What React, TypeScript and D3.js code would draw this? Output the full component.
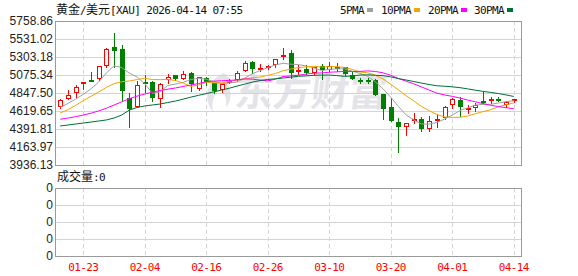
import React from "react";
import * as d3 from "d3";

// ---------- data ----------
const dates = [
  "01-20","01-21","01-22","01-23","01-26","01-27","01-28","01-29","01-30","02-02",
  "02-03","02-04","02-05","02-06","02-09","02-10","02-11","02-12","02-13","02-16",
  "02-17","02-18","02-19","02-20","02-23","02-24","02-25","02-26","02-27","03-02",
  "03-03","03-04","03-05","03-06","03-09","03-10","03-11","03-12","03-13","03-16",
  "03-17","03-18","03-19","03-20","03-23","03-24","03-25","03-26","03-27","03-30",
  "03-31","04-01","04-02","04-06","04-07","04-08","04-09","04-10","04-13","04-14",
];
const opens = [
  4674,4768,4843,4957,5012,5028,5185,5426,5404,4784,
  4674,4983,4987,4771,5008,5075,5028,5104,4894,5037,
  4970,4885,4987,5012,5122,5240,5147,5164,5198,5316,
  5354,5122,5155,5097,5189,5139,5181,5181,5071,5008,
  5008,5012,4835,4666,4480,4421,4489,4522,4388,4505,
  4531,4691,4759,4641,4657,4750,4742,4775,4699,4750,
];
const highs = [
  4775,4885,4945,4987,5113,5193,5417,5607,5459,4847,
  4995,5079,4995,4970,5088,5080,5130,5110,5054,5046,
  4975,4970,5021,5122,5249,5256,5215,5206,5274,5417,
  5392,5206,5198,5181,5215,5240,5231,5181,5113,5037,
  5037,5021,4835,4784,4531,4470,4590,4548,4556,4581,
  4683,4784,4793,4699,4717,4860,4800,4800,4742,4775,
];
const lows = [
  4657,4768,4784,4902,4995,5012,5173,5173,4763,4413,
  4666,4860,4750,4666,4970,5012,5028,4876,4885,4945,
  4851,4860,4978,5003,5122,5104,5122,5147,5173,5274,
  5037,5088,5090,5088,5028,5130,5122,5080,5025,4978,
  4980,4818,4522,4489,4101,4312,4464,4362,4370,4421,
  4514,4657,4556,4598,4616,4725,4717,4742,4666,4733,
];
const closes = [
  4759,4826,4927,4983,5003,5185,5408,5383,4869,4649,
  4945,4974,4784,4961,5054,5025,5088,4961,5046,4987,
  4876,4961,5003,5104,5231,5155,5164,5189,5274,5332,
  5101,5139,5097,5173,5139,5189,5173,5088,5028,5003,
  5000,4826,4649,4497,4413,4464,4514,4388,4489,4522,
  4674,4767,4674,4657,4699,4725,4767,4759,4733,4767,
];
const ma5 = [
  4666,4715,4770,4830,4900,4985,5101,5192,5170,5099,
  5051,4964,4844,4863,4944,4960,4982,5018,5035,5021,
  4992,4966,4975,4986,5035,5091,5131,5169,5203,5223,
  5212,5207,5189,5168,5130,5147,5154,5152,5123,5096,
  5058,4989,4901,4795,4677,4570,4507,4455,4454,4475,
  4517,4568,4625,4659,4694,4704,4704,4721,4737,4750,
];
const ma10 = [
  4594,4636,4691,4750,4806,4860,4919,4965,4990,4999,
  5018,5033,5018,5016,5021,5005,4973,4931,4949,4983,
  4976,4974,4996,5011,5028,5041,5049,5072,5094,5129,
  5151,5169,5179,5186,5176,5180,5181,5171,5146,5113,
  5103,5072,5027,4959,4887,4814,4748,4678,4624,4576,
  4544,4538,4540,4556,4585,4611,4636,4673,4698,4722,
];
const ma20 = [
  4515,4530,4548,4569,4592,4620,4654,4695,4735,4775,
  4808,4835,4858,4879,4896,4911,4930,4949,4968,4991,
  4997,5003,5007,5013,5025,5023,5011,5001,5022,5056,
  5064,5072,5087,5098,5102,5110,5115,5121,5120,5121,
  5127,5120,5103,5072,5031,4997,4964,4924,4885,4845,
  4823,4805,4784,4758,4736,4713,4692,4676,4661,4649,
];
const ma30 = [
  4430,4442,4455,4467,4480,4493,4506,4531,4569,4632,
  4664,4683,4696,4708,4727,4746,4770,4795,4818,4840,
  4862,4885,4908,4935,4960,4985,5005,5018,5028,5037,
  5048,5059,5064,5071,5075,5075,5068,5058,5063,5075,
  5077,5072,5067,5052,5030,5012,4993,4973,4955,4939,
  4933,4926,4915,4900,4883,4868,4855,4841,4823,4804,
];
const yTickLabels = ["5758.86","5531.02","5303.18","5075.34","4847.50","4619.65","4391.81","4163.97","3936.13"];
const xTickLabels = ["01-23","02-04","02-16","02-26","03-10","03-20","04-01","04-14"];
const volTickLabels = ["0","0","0","0","0"];
const maNames = ["5PMA","10PMA","20PMA","30PMA"];
const titleCN1 = "黄金";
const titleCN2 = "美元";
const titleRest = "[XAU] 2026-04-14 07:55";
const volTitle = "成交量";
const volValue = ":0";
const watermark = "东方财富";

// ---------- styles ----------
const W = 578, H = 276;
const L = 56, R = 522;
const MAIN_TOP = 21, MAIN_BOT = 165;
const VOL_TOP = 188, VOL_BOT = 256;
const UP = "#ff0000", DOWN = "#008000";
const MA_COLORS = ["#a0a0a0", "#f4a300", "#ff00ff", "#006f38"];
const GRID = "#d4d4d4";
const FRAME = "#9a9a9a";
const MONO = "'DejaVu Sans Mono', monospace";
const CJK = "'Noto Sans CJK SC', sans-serif";
const SANS = "'Liberation Sans', Arial, sans-serif";

const px = (v: number) => Math.round(v) + 0.5;

export default function App() {
  const x = d3.scalePoint<string>().domain(dates).range([60.2, 513.7]);
  const yDom = [+yTickLabels[yTickLabels.length - 1], +yTickLabels[0]];
  const y = d3.scaleLinear().domain(yDom).range([MAIN_BOT, MAIN_TOP]);
  const yv = d3.scaleLinear().domain([0, volTickLabels.length - 1]).range([VOL_BOT, VOL_TOP]);

  const lineGen = (arr: number[]) =>
    d3.line<number>().x((_, i) => x(dates[i]) as number).y((v) => y(v))(arr) as string;
  const mas = [ma5, ma10, ma20, ma30];

  const monoText = { fontFamily: MONO, fontSize: 11, letterSpacing: -0.6 } as const;

  // legend positions
  const legendX = [340, 381, 428, 474];

  return (
    <div style={{ position: "fixed", left: 0, top: 0, width: W, height: H, background: "#fff" }}>
      <svg width={W} height={H} style={{ display: "block" }}>
        <rect x={0} y={0} width={W} height={H} fill="#fff" />

        {/* watermark */}
        <g fill="#e4e4e8">
          <path d="M224 73 C206 80 203 99 213 112 C211 100 215 88 231 80 Z" />
          <path d="M214 84 C222 88 228 96 226 108 C233 98 232 88 224 81 Z" />
          <text x={234} y={106} fontFamily={CJK} fontSize={38} fontWeight={700}
            transform="skewX(-6) translate(11,0)">{watermark}</text>
        </g>

        {/* main grid */}
        {yTickLabels.slice(1, -1).map((t, i) => (
          <line key={"hg" + i} x1={L} x2={R} y1={px(y(+t))} y2={px(y(+t))} stroke={GRID} />
        ))}
        {xTickLabels.map((t) => (
          <line key={"vg" + t} x1={px(x(t) as number)} x2={px(x(t) as number)} y1={MAIN_TOP} y2={MAIN_BOT}
            stroke={GRID} strokeDasharray="4,3" />
        ))}

        {/* volume grid */}
        {volTickLabels.slice(1, -1).map((_, i) => (
          <line key={"vh" + i} x1={L} x2={R} y1={px(yv(i + 1))} y2={px(yv(i + 1))} stroke={GRID} />
        ))}
        {xTickLabels.map((t) => (
          <line key={"vv" + t} x1={px(x(t) as number)} x2={px(x(t) as number)} y1={VOL_TOP} y2={VOL_BOT}
            stroke={GRID} strokeDasharray="4,3" />
        ))}

        {/* candles */}
        {dates.map((d, i) => {
          const cx = Math.round(x(d) as number);
          const wx = cx + 0.5;
          const o = y(opens[i]), c = y(closes[i]), h = y(highs[i]), l = y(lows[i]);
          const up = closes[i] >= opens[i];
          const col = up ? UP : DOWN;
          const top = Math.round(Math.min(o, c));
          const bot = Math.round(Math.max(o, c));
          if (bot - top <= 1) {
            return (
              <g key={d}>
                <line x1={wx} x2={wx} y1={Math.round(h)} y2={Math.round(l) + 1} stroke={col} />
                <line x1={cx - 2} x2={cx + 3} y1={top + 0.5} y2={top + 0.5} stroke={col} />
                <line x1={cx - 2} x2={cx + 3} y1={top + 1.5} y2={top + 1.5} stroke={col} />
              </g>
            );
          }
          if (up) {
            return (
              <g key={d}>
                <line x1={wx} x2={wx} y1={Math.round(h)} y2={top} stroke={col} />
                <line x1={wx} x2={wx} y1={bot} y2={Math.round(l) + 1} stroke={col} />
                <rect x={cx - 1.5} y={top + 0.5} width={4} height={bot - top - 1} fill="#fff" stroke={col} />
              </g>
            );
          }
          return (
            <g key={d}>
              <line x1={wx} x2={wx} y1={Math.round(h)} y2={Math.round(l) + 1} stroke={col} />
              <rect x={cx - 2} y={top} width={5} height={bot - top} fill={col} />
            </g>
          );
        })}

        {/* moving averages */}
        {mas.map((arr, k) => (
          <path key={"ma" + k} d={lineGen(arr)} fill="none" stroke={MA_COLORS[k]} strokeWidth={1} />
        ))}

        {/* frames */}
        <rect x={L - 0.5} y={MAIN_TOP + 0.5} width={R - L} height={MAIN_BOT - MAIN_TOP} fill="none" stroke={FRAME} />
        <rect x={L - 0.5} y={VOL_TOP + 0.5} width={R - L} height={VOL_BOT - VOL_TOP} fill="none" stroke={FRAME} />

        {/* y labels */}
        {yTickLabels.map((t, i) => (
          <text key={"yl" + i} x={53} y={y(+t)} dy="0.36em" textAnchor="end"
            fontFamily={SANS} fontSize={12} fill="#222">{t}</text>
        ))}
        {volTickLabels.map((t, i) => (
          <text key={"vl" + i} x={53} y={yv(i)} dy="0.36em" textAnchor="end"
            fontFamily={SANS} fontSize={12} fill="#222">{t}</text>
        ))}

        {/* x labels */}
        {xTickLabels.map((t) => (
          <text key={"xl" + t} x={x(t) as number} y={271} textAnchor="middle" fill="#ff0000" {...monoText}>{t}</text>
        ))}

        {/* title */}
        <text x={56} y={14} fill="#111" fontSize={12}>
          <tspan fontFamily={CJK}>{titleCN1}</tspan>
          <tspan {...monoText}>/</tspan>
          <tspan fontFamily={CJK}>{titleCN2}</tspan>
          <tspan {...monoText}>{titleRest}</tspan>
        </text>

        {/* legend */}
        {maNames.map((n, k) => (
          <g key={n}>
            <text x={legendX[k]} y={14} fill="#111" {...monoText}>{n}</text>
            <rect x={legendX[k] + n.length * 6 + 3} y={8} width={6} height={4} fill={MA_COLORS[k]} />
          </g>
        ))}

        {/* volume title */}
        <text x={57} y={181} fill="#111" fontSize={12}>
          <tspan fontFamily={CJK}>{volTitle}</tspan>
          <tspan {...monoText}>{volValue}</tspan>
        </text>
      </svg>
    </div>
  );
}
